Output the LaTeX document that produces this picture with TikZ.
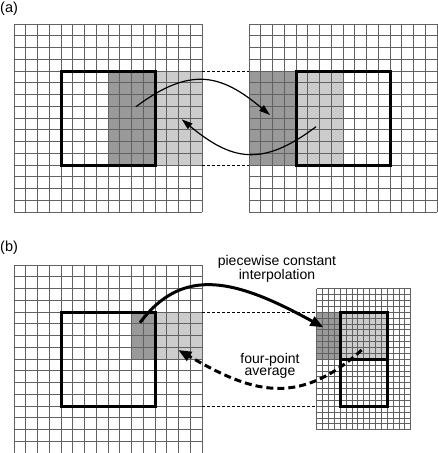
\documentclass[tikz,border=0pt]{standalone}
\usepackage{fontspec}
\setmainfont{Liberation Sans}
\usetikzlibrary{arrows.meta}
\definecolor{darkshade}{gray}{0.6}
\definecolor{lightshade}{gray}{0.8}
\definecolor{gridcol}{gray}{0.38}
\tikzset{
  gridline/.style={draw=gridcol, line width=0.6pt},
  finegridline/.style={draw=gridcol, line width=0.5pt},
  thickbox/.style={draw=black, line width=3pt, line join=miter},
  guide/.style={draw=black, line width=0.8pt, dash pattern=on 3pt off 2pt},
  thinarrow/.style={draw=black, line width=1.2pt, -{Triangle[length=11pt,width=7pt]}},
  boldarrow/.style={draw=black, line width=3pt, -{Triangle[length=13pt,width=10pt]}},
  bolddashed/.style={draw=black, line width=3pt, dash pattern=on 7pt off 4pt, -{Triangle[length=13pt,width=10pt]}},
  label/.style={font=\fontsize{14}{12.5}\selectfont, align=center, inner sep=0pt},
  panel/.style={font=\fontsize{14.5}{16}\selectfont, inner sep=0pt, anchor=base west}
}
\begin{document}
\begin{tikzpicture}[x=1pt, y=-1pt]
\useasboundingbox (0,0) rectangle (437,453);
\fill[white] (0,0) rectangle (437,453);

% ---------- panel (a) ----------
\node[panel] (la) at (0,12) {(a)};
% shading
\fill[darkshade] (108,71) rectangle (155,165);
\fill[lightshade] (155,71) rectangle (202,165);
\fill[darkshade] (249,71) rectangle (296,165);
\fill[lightshade] (296,71) rectangle (343,165);
% grids
\foreach \i in {0,...,16} {
  \draw[gridline] (14+\i*11.75,24) -- (14+\i*11.75,212);
  \draw[gridline] (14,24+\i*11.75) -- (202,24+\i*11.75);
  \draw[gridline] (249+\i*11.75,24) -- (249+\i*11.75,212);
  \draw[gridline] (249,24+\i*11.75) -- (437,24+\i*11.75);
}
% thick boxes
\draw[thickbox] (61,71) rectangle (155,165);
\draw[thickbox] (296,71) rectangle (390,165);
% guides
\coordinate (ga1) at (202,71); \coordinate (ga2) at (249,71);
\coordinate (ga3) at (202,165); \coordinate (ga4) at (249,165);
\draw[guide] (ga1) -- (ga2);
\draw[guide] (ga3) -- (ga4);
% arrows
\coordinate (a1s) at (136,106.7); \coordinate (a1e) at (270,115);
\coordinate (a2s) at (316,126.7); \coordinate (a2e) at (181.7,119.3);
\draw[thinarrow] (a1s) .. controls (190.5,66) and (221,74) .. (a1e);
\draw[thinarrow] (a2s) .. controls (261.5,168) and (231,160) .. (a2e);

% ---------- panel (b) ----------
\node[panel] (lb) at (0,251.8) {(b)};
% shading
\fill[darkshade] (131.5,312) rectangle (155,359);
\fill[lightshade] (155,312) rectangle (202,359);
\fill[darkshade] (316.5,312) rectangle (340,359);
\fill[lightshade] (340,312) rectangle (387,359);
% coarse grid
\foreach \i in {0,...,16} {
  \draw[gridline] (14+\i*11.75,265) -- (14+\i*11.75,453);
  \draw[gridline] (14,265+\i*11.75) -- (202,265+\i*11.75);
}
% fine grid
\foreach \i in {0,...,16} {
  \draw[finegridline] (316.5+\i*5.875,288.5) -- (316.5+\i*5.875,429.5);
}
\foreach \j in {0,...,24} {
  \draw[finegridline] (316.5,288.5+\j*5.875) -- (410.5,288.5+\j*5.875);
}
% thick boxes
\draw[thickbox] (61,312) rectangle (155,406);
\draw[thickbox] (340,312) rectangle (387,406);
\draw[thickbox] (340,359) -- (387,359);
% guides
\coordinate (gb1) at (202,312); \coordinate (gb2) at (316.5,312);
\coordinate (gb3) at (202,406); \coordinate (gb4) at (316.5,406);
\draw[guide] (gb1) -- (gb2);
\draw[guide] (gb3) -- (gb4);
% arrows
\coordinate (b1s) at (140,322.7); \coordinate (b1e) at (323.3,327.3);
\coordinate (b2s) at (361.7,350); \coordinate (b2e) at (178.3,350);
\draw[boldarrow] (b1s) .. controls (183,265.4) and (235.9,279.3) .. (b1e);
\draw[bolddashed] (b2s) .. controls (296.4,409.2) and (249,390.8) .. (b2e);
% labels
\node[label] (interp) at (277,268.5) {piecewise constant\\interpolation};
\node[label] (avg) at (270,366) {four-point\\average};
\end{tikzpicture}
\end{document}
